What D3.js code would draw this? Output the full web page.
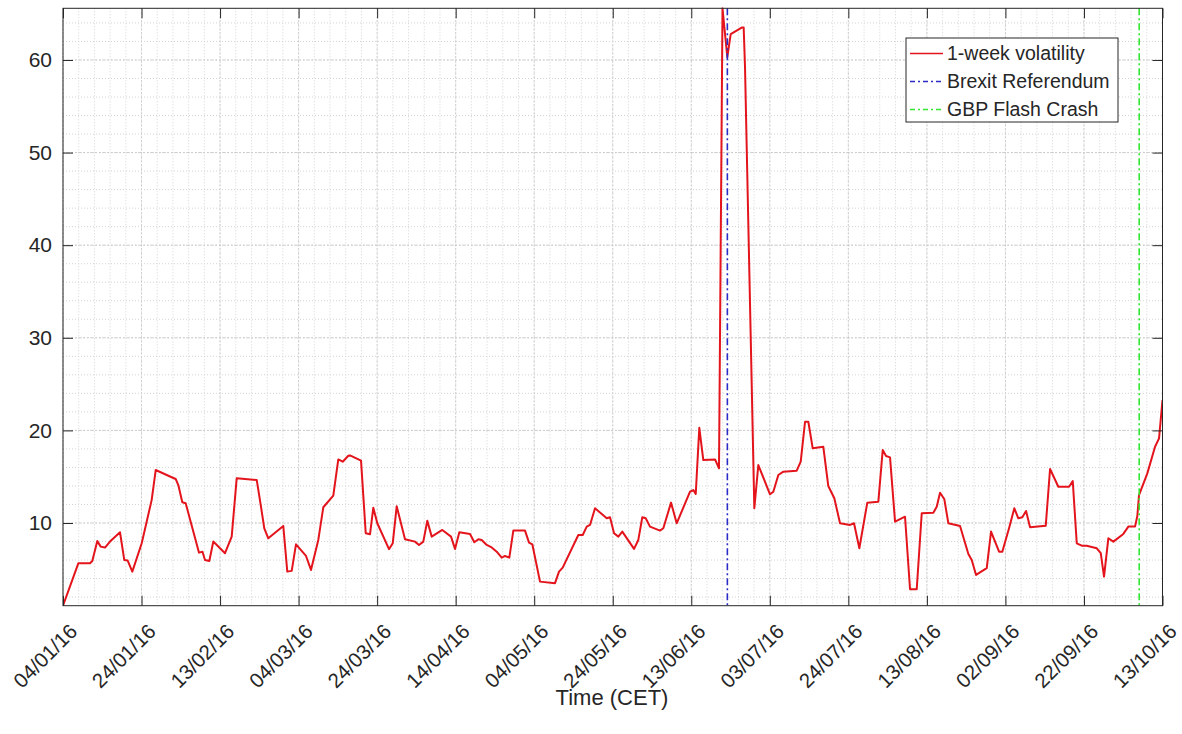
<!DOCTYPE html>
<html>
<head>
<meta charset="utf-8">
<script src="https://cdn.jsdelivr.net/npm/d3@7/dist/d3.min.js"></script>
<style>
  html, body { margin: 0; padding: 0; background: #fff; }
  svg { display: block; font-family: "Liberation Sans", Arial, Helvetica, sans-serif; }
</style>
</head>
<body>
<svg id="chart" width="1182" height="734"></svg>
<script>
// ---- data ----
const startDate = "2016-01-04";
const totalDays = 283; // 04/01/16 .. 13/10/16
// days since 04/01/16
const dayOffsets = [
  0, 3.94, 6.95, 7.54, 8.83, 9.70, 10.81, 12.10, 14.67, 15.78, 16.65, 17.84,
  20.26, 22.83, 23.86, 27.98, 29.01, 29.68, 30.71, 31.58, 35.01, 35.9, 36.55,
  37.66, 38.69, 41.70, 43.42, 44.71, 49.86, 50.96, 51.81, 52.84, 56.70, 57.73,
  58.87, 59.97, 62.55, 63.83, 65.71, 67.00, 69.57, 70.86, 71.99, 73.44, 73.87,
  76.71, 77.92, 79.02, 79.87, 80.90, 83.91, 84.87, 85.89, 88.03, 90.60, 91.63,
  92.74, 93.77, 94.90, 97.63, 99.87, 100.90, 102.01, 104.76, 105.87, 106.90,
  107.77, 109.06, 110.2, 111.63, 112.92, 113.77, 114.88, 115.91, 118.92, 119.95,
  120.80, 122.78, 126.64, 127.67, 128.62, 132.64, 133.77, 134.80, 135.65, 136.94,
  139.95, 140.80, 141.83, 142.94, 143.96, 146.98, 148.08, 149.11, 149.98, 151.09,
  153.66, 154.52, 156.50, 157.96, 161.39, 162.24, 162.86, 163.78, 164.81, 167.83,
  168.85, 169.75, 170.99, 171.86, 174.69, 175.2, 175.54, 177.94, 178.97, 181.98,
  182.83, 184.12, 185.41, 188.85, 189.88, 190.99, 191.84, 192.97, 195.70, 196.98,
  198.53, 200.0, 202.57, 203.60, 204.97, 207.02, 209.86, 210.99, 211.84, 212.87,
  214.16, 216.73, 218.02, 219.74, 221.03, 224.02, 224.89, 225.74, 226.85, 227.88,
  230.89, 233.03, 233.90, 235.01, 237.76, 238.87, 240.93, 241.77, 243.50, 244.86,
  245.89, 246.92, 247.88, 248.91, 252.95, 254.06, 256.19, 258.95, 259.90, 260.93,
  262.22, 263.50, 266.08, 267.11, 267.95, 269.06, 270.35, 272.92, 274.21, 275.93,
  276.52, 276.96, 279.09, 281.08, 282.11, 283.0
];
const volatility = [
  1.07, 5.65, 5.65, 5.9, 8.06, 7.45, 7.35, 8.0, 9.0, 6.0, 5.94, 4.75,
  7.81, 12.5, 15.72, 14.94, 14.75, 14.1, 12.24, 12.13, 6.8, 6.9, 6.0,
  5.9, 8.0, 6.74, 8.53, 14.83, 14.65, 11.76, 9.43, 8.35, 9.68, 4.75,
  4.83, 7.7, 6.44, 4.93, 8.17, 11.7, 12.95, 16.87, 16.62, 17.26, 17.3,
  16.73, 8.9, 8.78, 11.65, 9.97, 7.17, 7.81, 11.8, 8.24, 7.99, 7.63,
  7.99, 10.25, 8.53, 9.25, 8.53, 7.2, 9.0, 8.82, 7.92, 8.24,
  8.17, 7.63, 7.4, 6.9, 6.26, 6.44, 6.26, 9.18, 9.18, 7.88,
  7.7, 3.67, 3.5, 4.75, 5.18, 8.71, 8.71, 9.61, 9.79, 11.59,
  10.51, 10.62, 8.9, 8.53, 9.07, 7.2, 8.17, 10.62, 10.51, 9.61,
  9.18, 9.43, 12.2, 9.97, 13.38, 13.56, 13.13, 20.28, 16.8, 16.87,
  15.9, 65.58, 60.3, 62.8, 63.5, 63.5, 59.3, 11.59, 16.26, 13.1,
  13.38, 15.18, 15.54, 15.65, 16.62, 20.93, 20.93, 18.06, 18.23, 13.99,
  12.67, 9.97, 9.79, 9.97, 7.27, 12.2, 12.3, 17.88, 17.23, 17.09,
  10.14, 10.68, 2.85, 2.85, 11.05, 11.11, 11.76, 13.27, 12.56, 9.97,
  9.68, 6.66, 6.01, 4.39, 5.12, 9.07, 6.9, 6.9, 9.43, 11.59,
  10.51, 10.62, 11.3, 9.54, 9.71, 15.83, 13.92, 13.92, 14.53, 7.81,
  7.55, 7.55, 7.27, 6.74, 4.21, 8.35, 7.99, 8.82, 9.61, 9.61,
  10.76, 13.02, 15.36, 18.23, 19.14, 23.27
];
const eventNames = ["Brexit Referendum", "GBP Flash Crash"];
const eventDates = ["2016-06-23", "2016-10-07"];
const seriesName = "1-week volatility";
const yTicks = [10, 20, 30, 40, 50, 60];
const yDomain = [1.07, 65.58];
const xTickCount = 15;
const xLabel = "Time (CET)";

// ---- layout ----
const svg = d3.select("#chart");
const L = 63, R = 1162.5, T = 8.3, B = 605.7;
const DAY = 86400000;
const t0 = Date.parse(startDate + "T00:00:00Z");
const t1 = t0 + totalDays * DAY;

const x = d3.scaleUtc().domain([new Date(t0), new Date(t1)]).range([L, R]);
const y = d3.scaleLinear().domain(yDomain).range([B, T]);

const points = dayOffsets.map((d, i) => ({ date: new Date(t0 + d * DAY), v: volatility[i] }));
const xTickVals = d3.range(xTickCount).map(i => new Date(t0 + i * totalDays / (xTickCount - 1) * DAY));
const xMinorVals = d3.range((xTickCount - 1) * 5 + 1).map(i => new Date(t0 + i * totalDays / ((xTickCount - 1) * 5) * DAY));
const yMinorVals = d3.range(2, 66, 2);

const axisColor = "#262626";

// background
svg.append("rect").attr("x", L).attr("y", T).attr("width", R - L).attr("height", B - T).attr("fill", "#fff");

// minor grid
const grid = svg.append("g");
grid.selectAll("line.xm").data(xMinorVals).enter().append("line")
  .attr("x1", d => x(d)).attr("x2", d => x(d)).attr("y1", T).attr("y2", B)
  .attr("stroke", "#d4d4d4").attr("stroke-width", 1).attr("stroke-dasharray", "1,2");
grid.selectAll("line.ym").data(yMinorVals).enter().append("line")
  .attr("x1", L).attr("x2", R).attr("y1", d => y(d)).attr("y2", d => y(d))
  .attr("stroke", "#d4d4d4").attr("stroke-width", 1).attr("stroke-dasharray", "1,2");
// major grid
grid.selectAll("line.xM").data(xTickVals).enter().append("line")
  .attr("x1", d => x(d)).attr("x2", d => x(d)).attr("y1", T).attr("y2", B)
  .attr("stroke", "#cccccc").attr("stroke-width", 1).attr("stroke-dasharray", "2,2");
grid.selectAll("line.yM").data(yTicks).enter().append("line")
  .attr("x1", L).attr("x2", R).attr("y1", d => y(d)).attr("y2", d => y(d))
  .attr("stroke", "#cccccc").attr("stroke-width", 1).attr("stroke-dasharray", "2,2");

// clip
svg.append("clipPath").attr("id", "clip").append("rect")
  .attr("x", L).attr("y", T - 1).attr("width", R - L).attr("height", B - T + 2);

// series line
const line = d3.line().x(d => x(d.date)).y(d => y(d.v));
svg.append("path").datum(points).attr("clip-path", "url(#clip)")
  .attr("d", line).attr("fill", "none").attr("stroke", "#e3141c")
  .attr("stroke-width", 2).attr("stroke-linejoin", "round");

// event lines
const eventColors = ["#2b2bc8", "#33e633"];
eventDates.forEach((ds, i) => {
  const xd = x(new Date(Date.parse(ds + "T00:00:00Z")));
  svg.append("line").attr("x1", xd).attr("x2", xd).attr("y1", T).attr("y2", B)
    .attr("stroke", eventColors[i]).attr("stroke-width", 1.6)
    .attr("stroke-dasharray", "7,3,2,3");
});

// axes
const fmt = d3.utcFormat("%d/%m/%y");
const xAxis = svg.append("g").attr("transform", `translate(0,${B})`)
  .call(d3.axisBottom(x).tickValues(xTickVals).tickSize(-10).tickFormat(fmt));
xAxis.select(".domain").remove();
xAxis.selectAll(".tick line").attr("stroke", axisColor);
xAxis.selectAll(".tick text")
  .attr("font-size", 20.5).attr("fill", axisColor)
  .attr("text-anchor", "end")
  .attr("dy", null).attr("y", null)
  .attr("transform", "translate(15,27) rotate(-45)");

const xTop = svg.append("g").attr("transform", `translate(0,${T})`)
  .call(d3.axisTop(x).tickValues(xTickVals).tickSize(-10).tickFormat(""));
xTop.select(".domain").remove();
xTop.selectAll(".tick line").attr("stroke", axisColor);

const yAxis = svg.append("g").attr("transform", `translate(${L},0)`)
  .call(d3.axisLeft(y).tickValues(yTicks).tickSize(-10).tickPadding(11));
yAxis.select(".domain").remove();
yAxis.selectAll(".tick line").attr("stroke", axisColor);
yAxis.selectAll(".tick text").attr("font-size", 21).attr("fill", axisColor);

const yRight = svg.append("g").attr("transform", `translate(${R},0)`)
  .call(d3.axisRight(y).tickValues(yTicks).tickSize(-10).tickFormat(""));
yRight.select(".domain").remove();
yRight.selectAll(".tick line").attr("stroke", axisColor);

// box
svg.append("rect").attr("x", L).attr("y", T).attr("width", R - L).attr("height", B - T)
  .attr("fill", "none").attr("stroke", axisColor).attr("stroke-width", 1);

// x label
svg.append("text").attr("x", 612).attr("y", 705).attr("text-anchor", "middle")
  .attr("font-size", 22).attr("fill", axisColor).text(xLabel);

// legend
const lg = svg.append("g");
const lx = 906, ly = 38, lw = 212, lh = 84;
lg.append("rect").attr("x", lx).attr("y", ly).attr("width", lw).attr("height", lh)
  .attr("fill", "#fff").attr("stroke", axisColor).attr("stroke-width", 1);
const legendItems = [
  { name: seriesName, color: "#e3141c", dash: null },
  { name: eventNames[0], color: eventColors[0], dash: "5,3,2,3" },
  { name: eventNames[1], color: eventColors[1], dash: "5,3,2,3" }
];
legendItems.forEach((it, i) => {
  const cy = 53.5 + i * 28;
  lg.append("line").attr("x1", 910).attr("x2", 943).attr("y1", cy).attr("y2", cy)
    .attr("stroke", it.color).attr("stroke-width", it.dash ? 1.3 : 1.6)
    .attr("stroke-dasharray", it.dash);
  lg.append("text").attr("x", 947).attr("y", cy).attr("dy", "0.35em")
    .attr("font-size", 19.5).attr("fill", axisColor).text(it.name);
});
</script>
</body>
</html>
